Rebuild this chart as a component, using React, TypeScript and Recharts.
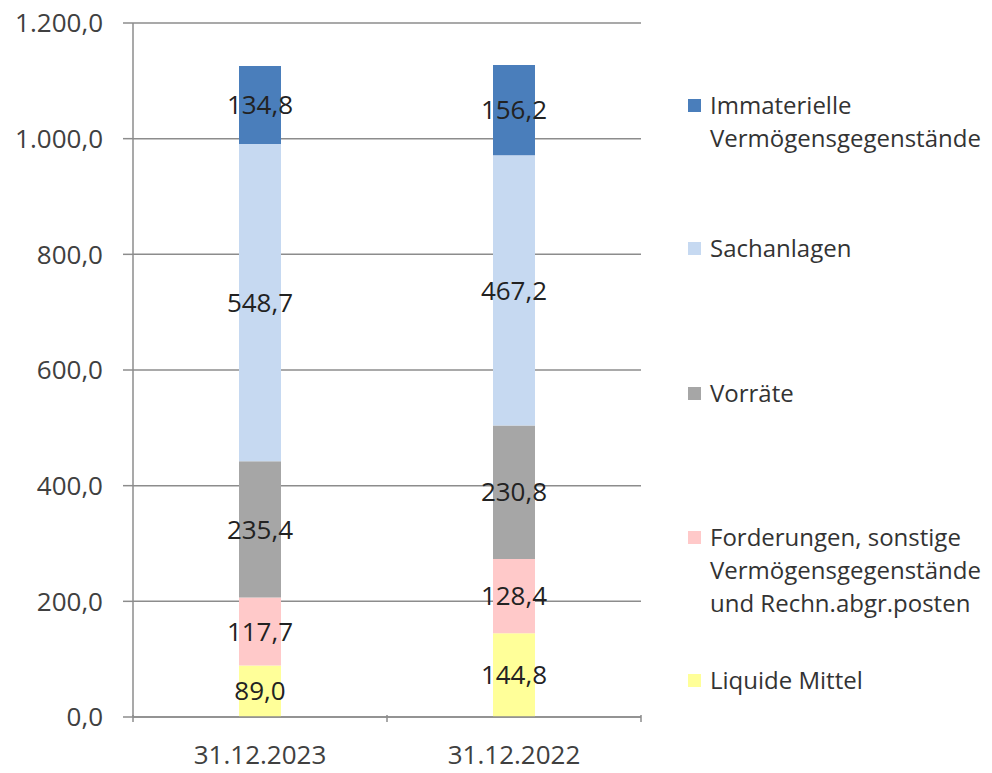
import { BarChart, Bar, XAxis, YAxis, CartesianGrid, LabelList, Legend } from 'recharts';

document.body.style.margin = '0';

const categories = ['31.12.2023', '31.12.2022'];

const liquide = [89.0, 144.8];
const forderungen = [117.7, 128.4];
const vorraete = [235.4, 230.8];
const sachanlagen = [548.7, 467.2];
const immaterielle = [134.8, 156.2];

const yTicks = [0, 200, 400, 600, 800, 1000, 1200];

// bottom to top in the stack
const series = [
  { key: 'liquide', name: 'Liquide Mittel', values: liquide, color: '#ffff99' },
  { key: 'forderungen', name: 'Forderungen, sonstige\nVermögensgegenstände\nund Rechn.abgr.posten', values: forderungen, color: '#ffc9c9' },
  { key: 'vorraete', name: 'Vorräte', values: vorraete, color: '#a6a6a6' },
  { key: 'sachanlagen', name: 'Sachanlagen', values: sachanlagen, color: '#c6d9f1' },
  { key: 'immaterielle', name: 'Immaterielle\nVermögensgegenstände', values: immaterielle, color: '#4a7ebb' },
];

// legend order (top to bottom) and vertical position of each entry
const legendOrder = ['immaterielle', 'sachanlagen', 'vorraete', 'forderungen', 'liquide'];
const legendTops = [88, 231, 376, 520, 663];

const chartData = categories.map((cat, i) => {
  const row: Record<string, string | number> = { name: cat };
  series.forEach((s) => {
    row[s.key] = s.values[i];
  });
  return row;
});

const fmt = (v: number) => {
  const [int, dec] = Number(v).toFixed(1).split('.');
  return int.replace(/\B(?=(\d{3})+(?!\d))/g, '.') + ',' + dec;
};

const FONT = '"Open Sans", sans-serif';
const GRID = '#8c8c8c';

const XTick = (props: any) => {
  const { x, y, payload, width, visibleTicksCount, index } = props;
  const half = width / (visibleTicksCount * 2);
  const top = y - 10;
  return (
    <g>
      {index === 0 && <line x1={x - half} x2={x - half} y1={top} y2={top + 7} stroke={GRID} strokeWidth={1.5} />}
      <line x1={x + half} x2={x + half} y1={top} y2={top + 7} stroke={GRID} strokeWidth={1.5} />
      <text x={x} y={y + 39} textAnchor="middle" fill="#404040" fontSize={26} fontFamily={FONT}>
        {payload.value}
      </text>
    </g>
  );
};

const LegendContent = () => (
  <div style={{ position: 'relative', width: 0, height: 0 }}>
    {legendOrder.map((k, i) => {
      const s = series.find((x) => x.key === k)!;
      return (
        <div
          key={k}
          style={{ position: 'absolute', left: 688, top: legendTops[i], display: 'flex', alignItems: 'flex-start', width: 320 }}
        >
          <div style={{ width: 13, height: 13, background: s.color, marginTop: 11, marginRight: 9, flexShrink: 0 }} />
          <div style={{ whiteSpace: 'pre-line', fontFamily: FONT, fontSize: 24, lineHeight: '33px', color: '#333333', textAlign: 'left' }}>
            {s.name}
          </div>
        </div>
      );
    })}
  </div>
);

export default function App() {
  return (
    <BarChart
      width={992}
      height={773}
      data={chartData}
      margin={{ top: 23, right: 351, bottom: 26, left: 0 }}
      barSize={42}
    >
      <CartesianGrid vertical={false} stroke={GRID} strokeWidth={1.5} />
      <YAxis
        domain={[0, 1200]}
        ticks={yTicks}
        width={133}
        tickSize={10}
        tickMargin={20}
        tickFormatter={fmt}
        axisLine={{ stroke: GRID, strokeWidth: 1.5 }}
        tickLine={{ stroke: GRID, strokeWidth: 1.5 }}
        tick={{ fill: '#404040', fontSize: 26, fontFamily: FONT }}
      />
      <XAxis
        dataKey="name"
        height={30}
        axisLine={{ stroke: GRID, strokeWidth: 1.5 }}
        tickLine={false}
        tick={<XTick />}
        interval={0}
      />
      {series.map((s) => (
        <Bar key={s.key} dataKey={s.key} name={s.name} stackId="a" fill={s.color} isAnimationActive={false}>
          <LabelList
            dataKey={s.key}
            position="center"
            formatter={(v: any) => fmt(v)}
            fill="#222222"
            fontSize={26}
            fontFamily={FONT}
          />
        </Bar>
      ))}
      <Legend
        layout="horizontal"
        verticalAlign="middle"
        align="center"
        content={<LegendContent />}
        wrapperStyle={{ position: 'absolute', left: 0, top: 0, width: 0, height: 0, overflow: 'visible' }}
      />
    </BarChart>
  );
}
